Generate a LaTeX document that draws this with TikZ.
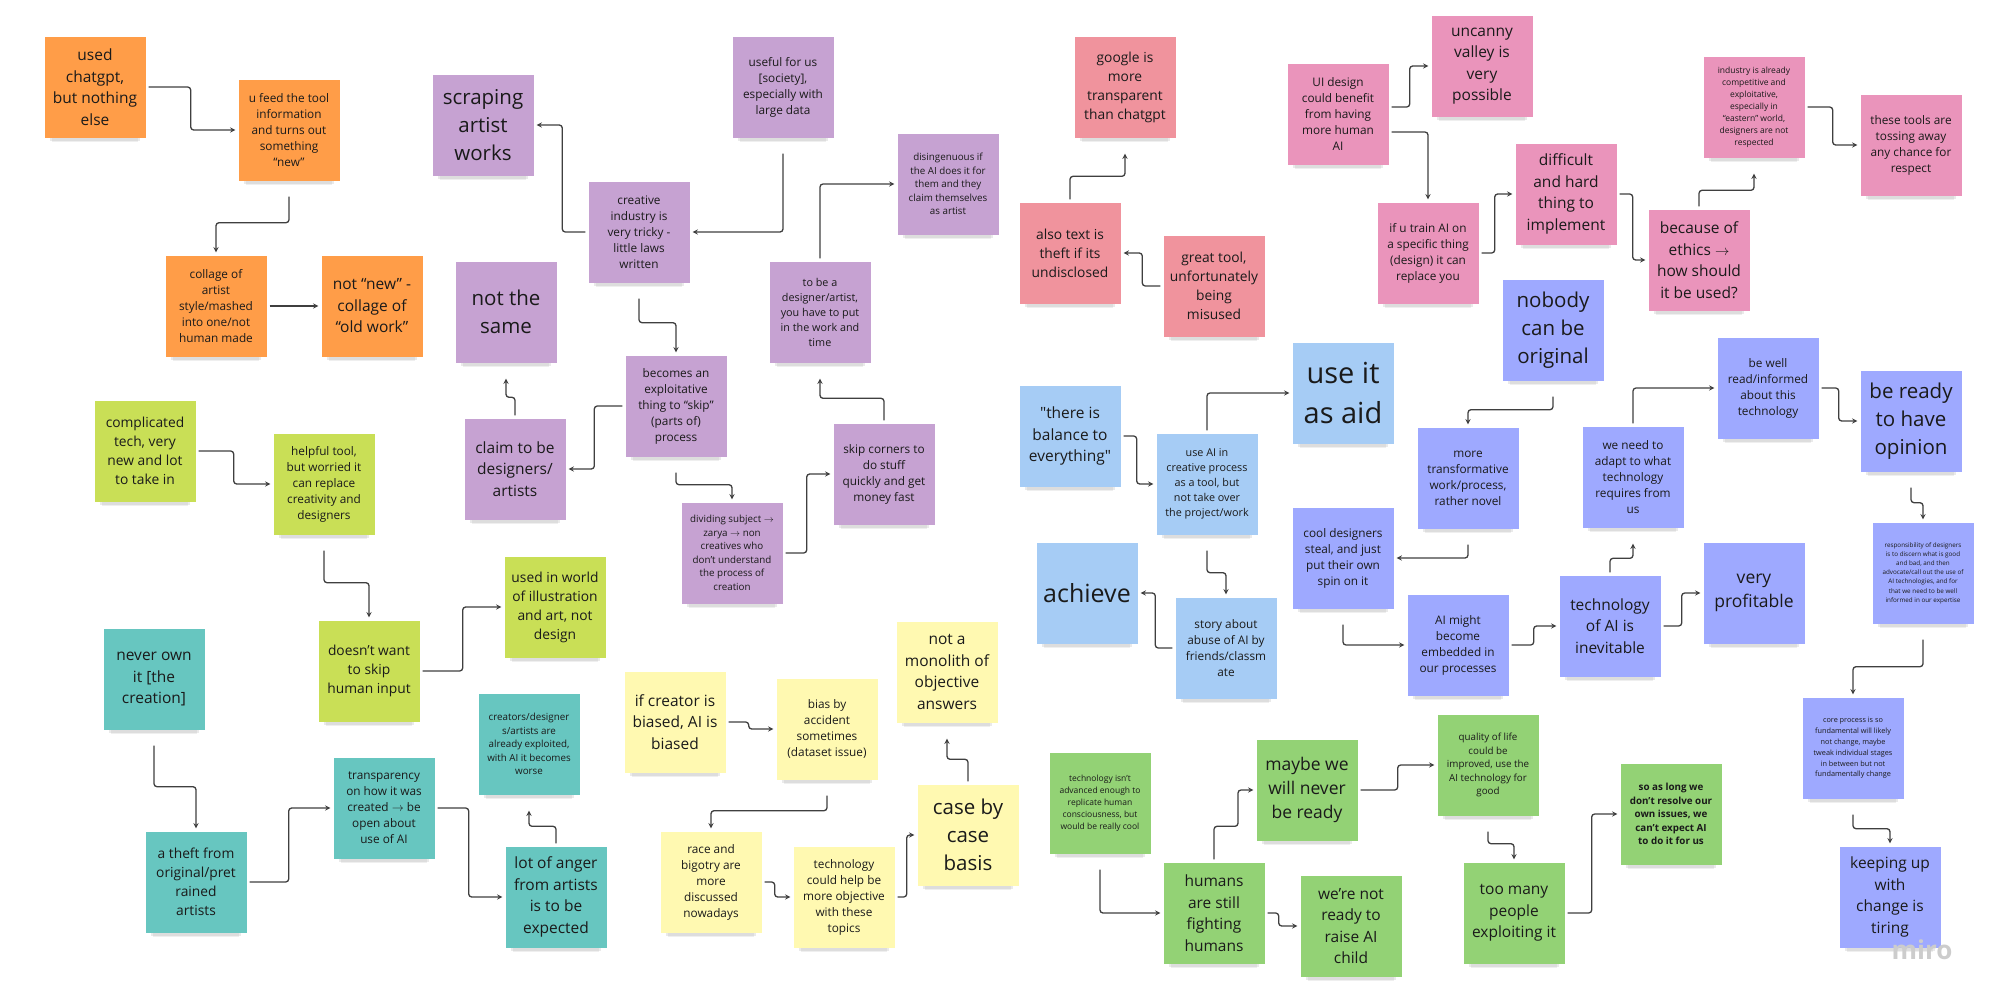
\documentclass[tikz,border=0pt]{standalone}
\usepackage{fontspec}
\setmainfont{Open Sans}
\newfontfamily\rawquote[Ligatures=TeXOff]{Open Sans}
\usepackage{tikz}
\usetikzlibrary{arrows, shadows}

\definecolor{notorange}{HTML}{FF9D48}
\definecolor{notviolet}{HTML}{C6A2D2}
\definecolor{notred}{HTML}{F0939D}
\definecolor{notpink}{HTML}{EA94BB}
\definecolor{notsky}{HTML}{A6CCF5}
\definecolor{notblue}{HTML}{9EA9FF}
\definecolor{notlime}{HTML}{C9DF56}
\definecolor{notgreen}{HTML}{93D275}
\definecolor{notcyan}{HTML}{67C6C0}
\definecolor{notyellow}{HTML}{FFF9B1}
\definecolor{ink}{HTML}{1A1A1A}
\definecolor{wire}{HTML}{3F3F3F}

\begin{document}
\begin{tikzpicture}[
  x=1pt, y=-1pt,
  note/.style       = {minimum width=101pt, minimum height=101pt, inner sep=0pt,
                       align=center, text=ink,
                       drop shadow={opacity=0.12, shadow xshift=0pt,
                                    shadow yshift=-13pt, shadow scale=0.86},
                       drop shadow={opacity=0.16, shadow xshift=0pt,
                                    shadow yshift=-9pt, shadow scale=0.9}},
  orangenote/.style = {note, fill=notorange},
  violetnote/.style = {note, fill=notviolet},
  rednote/.style    = {note, fill=notred},
  pinknote/.style   = {note, fill=notpink},
  skynote/.style    = {note, fill=notsky},
  bluenote/.style   = {note, fill=notblue},
  limenote/.style   = {note, fill=notlime},
  greennote/.style  = {note, fill=notgreen},
  cyannote/.style   = {note, fill=notcyan},
  yellownote/.style = {note, fill=notyellow},
  xltext/.style     = {font=\fontsize{29}{40}\selectfont},
  achtext/.style    = {font=\fontsize{25}{34}\selectfont},
  ltext/.style      = {font=\fontsize{20.5}{28}\selectfont},
  lmtext/.style     = {font=\fontsize{17.5}{24}\selectfont},
  mtext/.style      = {font=\fontsize{15.5}{21.5}\selectfont},
  mstext/.style     = {font=\fontsize{13.8}{19}\selectfont},
  stext/.style      = {font=\fontsize{11.8}{16}\selectfont},
  sstext/.style     = {font=\fontsize{10.8}{15}\selectfont},
  xstext/.style     = {font=\fontsize{9.8}{13.5}\selectfont},
  xsbold/.style     = {font=\fontsize{9.8}{13.5}\selectfont\bfseries},
  xxstext/.style    = {font=\fontsize{8.5}{12}\selectfont},
  tinytext/.style   = {font=\fontsize{7.3}{10.8}\selectfont},
  microtext/.style  = {font=\fontsize{6.3}{9.2}\selectfont},
  arr/.style        = {->, >=stealth, draw=wire, line width=1.3pt,
                       rounded corners=3pt, shorten >=3pt, shorten <=3pt},
  fromsouth/.style  = {shorten <=16pt},
  tosouth/.style    = {shorten >=16pt},
]

\fill[white] (0,0) rectangle (2000,1007);
\useasboundingbox (0,0) rectangle (2000,1007);

%% Orange
\node[orangenote, mtext] (chatgpt) at (95,87) {used\\chatgpt,\\but nothing\\else};
\node[orangenote, stext] (feed) at (289,130)
     {u feed the tool\\information\\and turns out\\something\\“new”};
\node[orangenote, stext] (collage) at (216,306)
     {collage of\\artist\\style/mashed\\into one/not\\human made};
\node[orangenote, mtext] (notnew) at (372,306) {not “new” -\\collage of\\“old work”};

\draw[arr] (chatgpt.east) -- ++(45,0) |- (feed.west);
\draw[arr, fromsouth] (feed.south) -- ++(0,42) -| (collage.north);
\draw[arr] (collage.east) -- (notnew.west);

%% Violet
\node[violetnote, ltext] (scraping) at (483,125) {scraping\\artist\\works};
\node[violetnote, ltext] (notsame) at (506,312) {not the\\same};
\node[violetnote, stext] (useful) at (783,87)
     {useful for us\\{[society]},\\especially with\\large data};
\node[violetnote, stext] (tricky) at (639,232)
     {creative\\industry is\\very tricky -\\little laws\\written};
\node[violetnote, xstext] (disingenuous) at (948,184)
     {disingenuous if\\the AI does it for\\them and they\\claim themselves\\as artist};
\node[violetnote, sstext] (tobe) at (820,312)
     {to be a\\designer/artist,\\you have to put\\in the work and\\time};
\node[violetnote, stext] (exploit) at (676,406)
     {becomes an\\exploitative\\thing to “skip”\\(parts of)\\process};
\node[violetnote, mtext] (claim) at (515,469) {claim to be\\designers/\\artists};
\node[violetnote, xstext] (dividing) at (732,553)
     {dividing subject $\rightarrow$\\zarya $\rightarrow$ non\\creatives who\\don't understand\\the process of\\creation};
\node[violetnote, stext] (skipc) at (884,474)
     {skip corners to\\do stuff\\quickly and get\\money fast};

\draw[arr] (tricky.west) -- ++(-26,0) |- (scraping.east);
\draw[arr, fromsouth] (useful.south) |- (tricky.east);
\draw[arr, fromsouth] (tricky.south) -- ++(0,40) -| (exploit.north);
\draw[arr] (tobe.north) |- (disingenuous.west);
\draw[arr] (exploit.west) -- ++(-31,0) |- (claim.east);
\draw[arr, fromsouth] (exploit.south) -- ++(0,28) -| (dividing.north);
\draw[arr] (dividing.east) -- ++(24,0) |- (skipc.west);
\draw[arr, tosouth] (skipc.north) -- ++(0,-25) -| (tobe.south);
\draw[arr, tosouth] (claim.north) -- ++(0,-21) -| (notsame.south);

%% Lime
\node[limenote, mstext] (complicated) at (145,451)
     {complicated\\tech, very\\new and lot\\to take in};
\node[limenote, stext] (helpful) at (324,484)
     {helpful tool,\\but worried it\\can replace\\creativity and\\designers};
\node[limenote, mstext] (skiphuman) at (369,671) {doesn't want\\to skip\\human input};
\node[limenote, mstext] (illustration) at (555,607)
     {used in world\\of illustration\\and art, not\\design};

\draw[arr] (complicated.east) -- ++(38,0) |- (helpful.west);
\draw[arr, fromsouth] (helpful.south) -- ++(0,48) -| (skiphuman.north);
\draw[arr] (skiphuman.east) -- ++(43,0) |- (illustration.west);

%% Cyan
\node[cyannote, mtext] (neverown) at (154,679) {never own\\it [the\\creation]};
\node[cyannote, mstext] (theft) at (196,882)
     {a theft from\\original/pret\\rained\\artists};
\node[cyannote, stext] (transparency) at (384,808)
     {transparency\\on how it was\\created $\rightarrow$ be\\open about\\use of AI};
\node[cyannote, xstext] (exploited) at (529,744)
     {creators/designer\\s/artists are\\already exploited,\\with AI it becomes\\worse};
\node[cyannote, mtext] (anger) at (556,897)
     {lot of anger\\from artists\\is to be\\expected};

\draw[arr, fromsouth] (neverown.south) -- ++(0,57) -| (theft.north);
\draw[arr] (theft.east) -- ++(42,0) |- (transparency.west);
\draw[arr] (transparency.east) -- ++(34,0) |- (anger.west);
\draw[arr, tosouth] (anger.north) -- ++(0,-20) -| (exploited.south);

%% Yellow
\node[yellownote, mtext] (biased) at (675,722) {if creator is\\biased, AI is\\biased};
\node[yellownote, stext] (accident) at (827,729)
     {bias by\\accident\\sometimes\\(dataset issue)};
\node[yellownote, stext] (bigotry) at (711,882)
     {race and\\bigotry are\\more\\discussed\\nowadays};
\node[yellownote, stext] (objective) at (844,897)
     {technology\\could help be\\more objective\\with these\\topics};
\node[yellownote, ltext] (casebycase) at (968,835) {case by\\case\\basis};
\node[yellownote, mtext] (monolith) at (947,672)
     {not a\\monolith of\\objective\\answers};

\draw[arr] (biased.east) -- ++(23,0) |- (accident.west);
\draw[arr, fromsouth] (accident.south) -- ++(0,31) -| (bigotry.north);
\draw[arr] (bigotry.east) -- ++(13,0) |- (objective.west);
\draw[arr] (objective.east) -- ++(12,0) |- (casebycase.west);
\draw[arr, tosouth] (casebycase.north) -- ++(0,-25) -| (monolith.south);

%% Red
\node[rednote, mstext] (google) at (1125,87)
     {google is\\more\\transparent\\than chatgpt};
\node[rednote, mstext] (alsotext) at (1070,253)
     {also text is\\theft if its\\undisclosed};
\node[rednote, mstext] (misused) at (1214,286)
     {great tool,\\unfortunately\\being\\misused};

\draw[arr, tosouth] (alsotext.north) -- ++(0,-26) -| (google.south);
\draw[arr] (misused.west) -- ++(-21,0) |- (alsotext.east);

%% Pink
\node[pinknote, stext] (uidesign) at (1338,114)
     {UI design\\could benefit\\from having\\more human\\AI};
\node[pinknote, mtext] (uncanny) at (1482,66) {uncanny\\valley is\\very\\possible};
\node[pinknote, stext] (train) at (1428,253)
     {if u train AI on\\a specific thing\\(design) it can\\replace you};
\node[pinknote, mtext] (difficult) at (1566,194)
     {difficult\\and hard\\thing to\\implement};
\node[pinknote, mtext] (ethics) at (1699,260)
     {because of\\ethics $\rightarrow$\\how should\\it be used?};
\node[pinknote, xxstext] (industry) at (1754,107)
     {industry is already\\competitive and\\exploitative,\\especially in\\“eastern” world,\\designers are not\\respected};
\node[pinknote, stext] (tossing) at (1911,145)
     {these tools are\\tossing away\\any chance for\\respect};

\draw[arr] ([yshift=7pt]uidesign.east) -- ++(21,0) |- (uncanny.west);
\draw[arr] ([yshift=-18pt]uidesign.east) -| (train.north);
\draw[arr] (train.east) -- ++(16,0) |- (difficult.west);
\draw[arr] (difficult.east) -- ++(16,0) |- (ethics.west);
\draw[arr, tosouth] (ethics.north) -- ++(0,-19) -| (industry.south);
\draw[arr] (industry.east) -- ++(28,0) |- (tossing.west);

%% Sky
\node[skynote, mtext] (balance) at (1070,436)
     {{\rawquote"}there is\\balance to\\everything{\rawquote"}};
\node[skynote, sstext] (useai) at (1207,484)
     {use AI in\\creative process\\as a tool, but\\not take over\\the project/work};
\node[skynote, xltext] (aid) at (1343,393) {use it\\as aid};
\node[skynote, achtext] (achieve) at (1087,593) {achieve};
\node[skynote, stext] (story) at (1226,648)
     {story about\\abuse of AI by\\friends/classm\\ate};

\draw[arr] (balance.east) -- ++(16,0) |- (useai.west);
\draw[arr] (useai.north) |- (aid.west);
\draw[arr, fromsouth] (useai.south) -- ++(0,38) -| (story.north);
\draw[arr] (story.west) -- ++(-20,0) |- (achieve.east);

%% Blue
\node[bluenote, ltext] (nobody) at (1553,330) {nobody\\can be\\original};
\node[bluenote, stext] (transform) at (1468,478)
     {more\\transformative\\work/process,\\rather novel};
\node[bluenote, stext] (steal) at (1343,558)
     {cool designers\\steal, and just\\put their own\\spin on it};
\node[bluenote, stext] (embedded) at (1458,645)
     {AI might\\become\\embedded in\\our processes};
\node[bluenote, mtext] (inevitable) at (1610,626) {technology\\of AI is\\inevitable};
\node[bluenote, stext] (adapt) at (1633,477)
     {we need to\\adapt to what\\technology\\requires from\\us};
\node[bluenote, stext] (wellread) at (1768,388)
     {be well\\read/informed\\about this\\technology};
\node[bluenote, ltext] (ready) at (1911,421) {be ready\\to have\\opinion};
\node[bluenote, lmtext] (profitable) at (1754,593) {very\\profitable};
\node[bluenote, microtext] (responsibility) at (1923,573)
     {responsibility of designers\\is to discern what is good\\and bad, and then\\advocate/call out the use of\\AI technologies, and for\\that we need to be well\\informed in our expertise};
\node[bluenote, tinytext] (core) at (1853,748)
     {core process is so\\fundamental will likely\\not change, maybe\\tweak individual stages\\in between but not\\fundamentally change};
\node[bluenote, mtext] (tiring) at (1890,897)
     {keeping up\\with\\change is\\tiring};

\draw[arr, fromsouth] (nobody.south) -- ++(0,29) -| (transform.north);
\draw[arr, fromsouth] (transform.south) |- (steal.east);
\draw[arr, fromsouth] (steal.south) |- (embedded.west);
\draw[arr] (embedded.east) -- ++(25,0) |- (inevitable.west);
\draw[arr, tosouth] (inevitable.north) -- ++(0,-17) -| (adapt.south);
\draw[arr] (inevitable.east) -- ++(21,0) |- (profitable.west);
\draw[arr] (adapt.north) |- (wellread.west);
\draw[arr] (wellread.east) -- ++(20,0) |- (ready.west);
\draw[arr, fromsouth] (ready.south) -- ++(0,31) -| (responsibility.north);
\draw[arr, fromsouth] (responsibility.south) -- ++(0,43) -| (core.north);
\draw[arr, fromsouth] (core.south) -- ++(0,30) -| (tiring.north);

%% Green
\node[greennote, xxstext] (cool) at (1100,803)
     {technology isn't\\advanced enough to\\replicate human\\consciousness, but\\would be really cool};
\node[greennote, mtext] (fighting) at (1214,913)
     {humans\\are still\\fighting\\humans};
\node[greennote, lmtext] (never) at (1307,790) {maybe we\\will never\\be ready};
\node[greennote, mtext] (child) at (1351,926) {we’re not\\ready to\\raise AI\\child};
\node[greennote, xstext] (quality) at (1488,765)
     {quality of life\\could be\\improved, use the\\AI technology for\\good};
\node[greennote, mtext] (exploiting) at (1514,913) {too many\\people\\exploiting it};
\node[greennote, xsbold] (issues) at (1671,814)
     {so as long we\\don't resolve our\\own issues, we\\can't expect AI\\to do it for us};

\draw[arr, fromsouth] (cool.south) |- (fighting.west);
\draw[arr] (fighting.north) -- ++(0,-36) -- ++(24,0) |- (never.west);
\draw[arr] (fighting.east) -- ++(14,0) |- (child.west);
\draw[arr] (never.east) -- ++(40,0) |- (quality.west);
\draw[arr, fromsouth] (quality.south) -- ++(0,28) -| (exploiting.north);
\draw[arr] (exploiting.east) -- ++(27,0) |- (issues.west);

%% Watermark
\node[text=black!20, font=\fontsize{26}{26}\selectfont\bfseries] (miro) at (1922,950) {miro};

\end{tikzpicture}
\end{document}
